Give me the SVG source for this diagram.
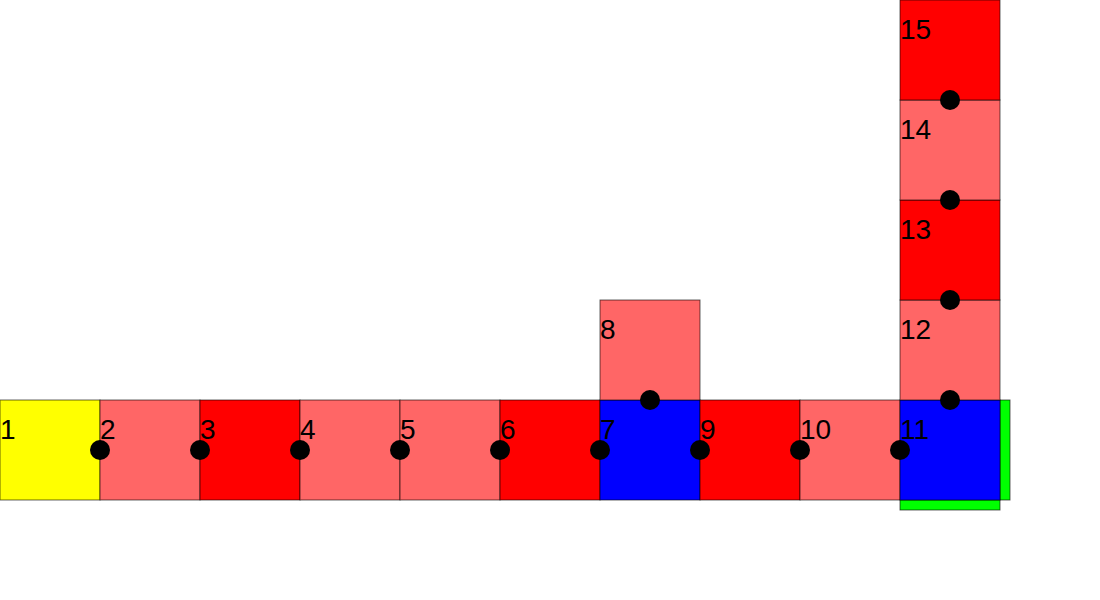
<svg xmlns="http://www.w3.org/2000/svg" width="1100" height="600" viewBox="0 0 1100 600">
<style>
rect{stroke:#000;stroke-opacity:0.6;stroke-width:1}
.y{fill:#ffff00}.l{fill:#ff6666}.r{fill:#ff0000}.b{fill:#0000ff}.g{fill:#00ff00}
text{font-family:"Liberation Sans",Arial,sans-serif;font-size:28px;fill:#000}
circle{fill:#000}
</style>
<rect width="1100" height="600" fill="#fff" style="stroke:none"/>
<g id="node1"><rect class="y" x="0" y="400" width="100" height="100"/><text x="0" y="439">1</text></g>
<g id="node2"><rect class="l" x="100" y="400" width="100" height="100"/><text x="100" y="439">2</text></g>
<g id="node3"><rect class="r" x="200" y="400" width="100" height="100"/><text x="200" y="439">3</text></g>
<g id="node4"><rect class="l" x="300" y="400" width="100" height="100"/><text x="300" y="439">4</text></g>
<g id="node5"><rect class="l" x="400" y="400" width="100" height="100"/><text x="400" y="439">5</text></g>
<g id="node6"><rect class="r" x="500" y="400" width="100" height="100"/><text x="500" y="439">6</text></g>
<g id="node7"><rect class="b" x="600" y="400" width="100" height="100"/><text x="600" y="439">7</text></g>
<g id="node8"><rect class="l" x="600" y="300" width="100" height="100"/><text x="600" y="339">8</text></g>
<g id="node9"><rect class="r" x="700" y="400" width="100" height="100"/><text x="700" y="439">9</text></g>
<g id="node10"><rect class="l" x="800" y="400" width="100" height="100"/><text x="800" y="439">10</text></g>
<g id="node11"><rect class="g" x="1000" y="400" width="10" height="100"/><rect class="g" x="900" y="500" width="100" height="10"/><rect class="b" x="900" y="400" width="100" height="100"/><text x="900" y="439">11</text></g>
<g id="node12"><rect class="l" x="900" y="300" width="100" height="100"/><text x="900" y="339">12</text></g>
<g id="node13"><rect class="r" x="900" y="200" width="100" height="100"/><text x="900" y="239">13</text></g>
<g id="node14"><rect class="l" x="900" y="100" width="100" height="100"/><text x="900" y="139">14</text></g>
<g id="node15"><rect class="r" x="900" y="0" width="100" height="100"/><text x="900" y="39">15</text></g>
<g id="connectors">
<circle cx="100" cy="450" r="10"/><circle cx="200" cy="450" r="10"/><circle cx="300" cy="450" r="10"/><circle cx="400" cy="450" r="10"/><circle cx="500" cy="450" r="10"/><circle cx="600" cy="450" r="10"/><circle cx="700" cy="450" r="10"/><circle cx="800" cy="450" r="10"/><circle cx="900" cy="450" r="10"/>
<circle cx="650" cy="400" r="10"/><circle cx="950" cy="400" r="10"/><circle cx="950" cy="300" r="10"/><circle cx="950" cy="200" r="10"/><circle cx="950" cy="100" r="10"/>
</g>
</svg>
